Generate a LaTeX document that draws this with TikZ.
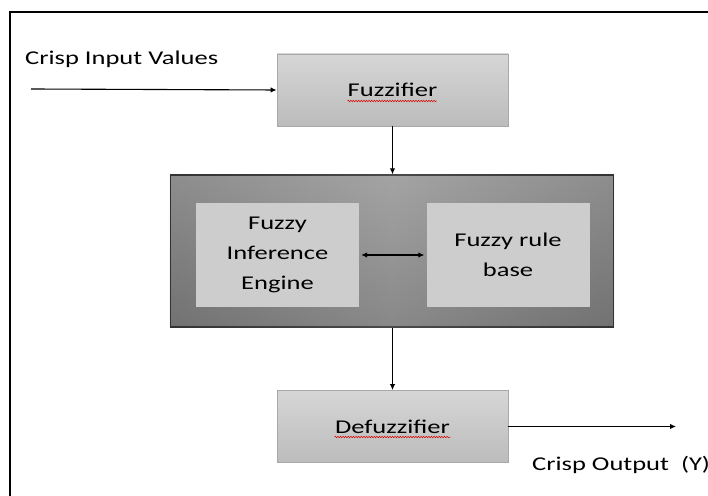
\documentclass[tikz,border=0pt]{standalone}
\usepackage{fontspec}
\setmainfont{Carlito}
\usetikzlibrary{arrows.meta,decorations.pathmorphing,calc}
\definecolor{lightbox}{HTML}{CDCDCD}
\definecolor{lighttop}{HTML}{D6D6D6}
\definecolor{lightbot}{HTML}{BCBCBC}
\definecolor{boxedge}{HTML}{A8A8A8}
\definecolor{darktop}{HTML}{A4A4A4}
\definecolor{darkbot}{HTML}{727272}
\newcommand{\wtxt}[1]{\scalebox{1.36}[1]{#1}}
\tikzset{
  lbl/.style={font=\fontsize{19.5}{30}\selectfont, inner sep=0pt, anchor=base west},
  graybox/.style={draw=boxedge, line width=0.8pt, top color=lighttop, bottom color=lightbot,
    minimum width=231pt, minimum height=72pt, inner sep=0pt, font=\fontsize{19.5}{30}\selectfont},
  innerbox/.style={fill=lightbox, minimum width=163pt, minimum height=104pt, inner sep=0pt,
    align=center, font=\fontsize{19.5}{30}\selectfont},
  darkbox/.style={draw=black, line width=1.4pt, top color=darktop, bottom color=darkbot,
    minimum width=443pt, minimum height=152pt, inner sep=0pt},
  conn/.style={line width=1.1pt, -{Latex[length=6pt,width=5.5pt]}},
  squiggle/.style={draw=red!85!black, line width=0.5pt, decorate,
    decoration={snake, amplitude=0.8pt, segment length=2.6pt}}
}
\begin{document}
\begin{tikzpicture}[x=1pt,y=1pt]
\useasboundingbox (0,0) rectangle (708,495);
\fill[white] (0,0) rectangle (708,495);
\begin{scope}
\clip (0,0) rectangle (708,495);
\draw[line width=1.8pt] (10,-30) rectangle (780,483);
\end{scope}
% nodes
\node[graybox] (fuzz) at (392.5,405) {\wtxt{Fuzzifier}};
\node[darkbox] (core) at (392,244) {};
\path[left color=darkbot, right color=darkbot, middle color=darktop, opacity=0.45]
  (core.south west) rectangle (core.north east);
\node[innerbox] (inf) at (277.5,240) {\wtxt{Fuzzy}\\\wtxt{Inference}\\\wtxt{Engine}};
\node[innerbox] (rule) at (508,240) {\wtxt{Fuzzy rule}\\\wtxt{base}};
\node[graybox] (defuzz) at (392.5,68.5) {\wtxt{Defuzzifier}};
\coordinate (in) at (31,406);
\coordinate (out) at (676,68.5);
% labels
\node[lbl] (inlbl) at (25,430) {\wtxt{Crisp Input Values}};
\node[lbl] (outlbl) at (532,25) {\wtxt{Crisp Output~~(Y)}};
% spell-check squiggles
\draw[squiggle] ($(fuzz.center)+(-45,-11)$) -- ($(fuzz.center)+(44,-11)$);
\draw[squiggle] ($(defuzz.center)+(-58,-10.5)$) -- ($(defuzz.center)+(58,-10.5)$);
% connectors
\draw[conn] (in) -- (fuzz.west);
\draw[conn] (fuzz.south) -- (fuzz.south |- core.north);
\draw[line width=1.1pt, {Latex[length=6pt,width=5.5pt]}-{Latex[length=6pt,width=5.5pt]}] ([xshift=2pt]inf.east) -- ([xshift=-2pt]rule.west);
\draw[conn] (defuzz.north |- core.south) -- (defuzz.north);
\draw[conn] (defuzz.east) -- (out);
\end{tikzpicture}
\end{document}
